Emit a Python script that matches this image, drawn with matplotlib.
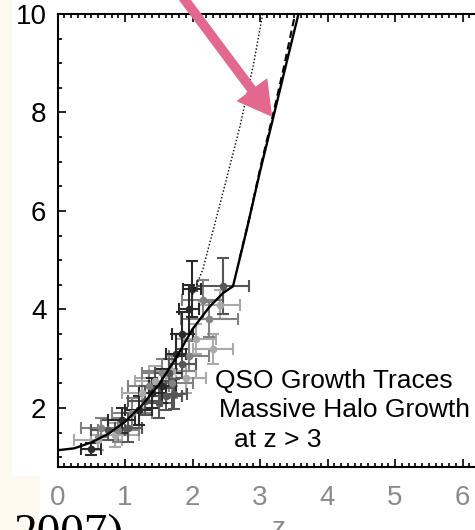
import matplotlib
matplotlib.use("Agg")
import matplotlib.pyplot as plt
from matplotlib.patches import Rectangle, FancyArrowPatch
from matplotlib.ticker import MultipleLocator

plt.rcParams['font.family'] = ['Liberation Sans', 'DejaVu Sans']

# Growth track: solid model curve
solid_z = [0.0, 0.25, 0.5, 0.75, 1.0, 1.25, 1.5, 1.75, 2.0, 2.25, 2.45, 2.6,
           2.8, 3.0, 3.2, 3.4, 3.57]
solid_y = [1.14, 1.18, 1.3, 1.47, 1.72, 2.05, 2.47, 3.0, 3.6, 4.05, 4.33, 4.47,
           5.6, 6.8, 7.92, 9.05, 10.0]

# Alternative tracks at high z
dashed_z = [2.7, 2.85, 3.0, 3.2, 3.35, 3.52]
dashed_y = [5.05, 5.9, 6.85, 8.0, 8.9, 10.0]
dotted_z = [2.0, 2.15, 2.4, 2.7, 2.9, 3.04]
dotted_y = [4.3, 4.8, 6.1, 7.7, 8.95, 10.0]

# QSO measurements, grouped by sample (z, value, z error, value error)
s1_z = [0.5, 0.95, 1.2, 1.4, 1.55, 1.75, 1.85, 1.99, 1.95]
s1_y = [1.17, 1.75, 1.95, 2.3, 2.45, 3.1, 3.5, 4.41, 4.0]
s1_xe = [0.15, 0.2, 0.2, 0.2, 0.2, 0.15, 0.15, 0.13, 0.15]
s1_ye = [0.12, 0.25, 0.3, 0.3, 0.35, 0.4, 0.45, 0.57, 0.5]

s2_z = [0.75, 1.05, 1.3, 1.5, 1.6, 1.72, 1.65, 2.45, 1.85]
s2_y = [1.55, 1.6, 2.15, 2.1, 2.25, 2.28, 2.7, 4.47, 2.9]
s2_xe = [0.25, 0.2, 0.25, 0.2, 0.25, 0.2, 0.2, 0.38, 0.2]
s2_ye = [0.2, 0.3, 0.3, 0.3, 0.3, 0.3, 0.3, 0.57, 0.3]

s3_z = [0.65, 0.9, 1.1, 1.35, 1.55, 1.95, 2.25, 2.15, 1.7]
s3_y = [1.6, 1.55, 1.9, 2.45, 2.7, 3.05, 3.8, 4.2, 2.5]
s3_xe = [0.3, 0.3, 0.3, 0.3, 0.3, 0.3, 0.42, 0.3, 0.3]
s3_ye = [0.2, 0.25, 0.3, 0.3, 0.3, 0.3, 0.35, 0.4, 0.3]

s4_z = [0.6, 0.85, 1.25, 1.45, 1.7, 2.05, 2.3, 2.4, 1.9]
s4_y = [1.35, 1.45, 2.3, 2.55, 2.75, 3.4, 3.2, 4.1, 2.6]
s4_xe = [0.35, 0.35, 0.3, 0.3, 0.35, 0.3, 0.3, 0.3, 0.3]
s4_ye = [0.2, 0.25, 0.3, 0.3, 0.3, 0.3, 0.3, 0.3, 0.3]

x_ticks = [0, 1, 2, 3, 4, 5, 6]
y_ticks = [2, 4, 6, 8, 10]

W, H = 475, 530
fig = plt.figure(figsize=(W / 100, H / 100), dpi=100, facecolor='white')

# cream slide background strips
cream = '#fdf9ee'
fig.patches.append(Rectangle((0, 0), 12 / W, 1, transform=fig.transFigure,
                             facecolor=cream, edgecolor='none', zorder=0))
fig.patches.append(Rectangle((0, 0), 40 / W, (H - 476) / H, transform=fig.transFigure,
                             facecolor=cream, edgecolor='none', zorder=0))

x_left, x_scale = 57.5, 67.5
z_max = 6.25
ax = fig.add_axes([x_left / W, (H - 467) / H, z_max * x_scale / W, 453 / H])
ax.set_xlim(0, z_max)
ax.set_ylim(0.8, 10)

# data with error bars, lightest first
for zz, yy, xe, ye, col in [
    (s4_z, s4_y, s4_xe, s4_ye, '#a9a9a9'),
    (s3_z, s3_y, s3_xe, s3_ye, '#828282'),
    (s2_z, s2_y, s2_xe, s2_ye, '#565656'),
    (s1_z, s1_y, s1_xe, s1_ye, '#2a2a2a'),
]:
    ax.errorbar(zz, yy, xerr=xe, yerr=ye, fmt='o', color=col, ms=4.5,
                elinewidth=1.5, capsize=4.5, capthick=1.5, zorder=2)

ax.plot(dotted_z, dotted_y, color='black', lw=1.0, ls=(0, (1, 1.5)), zorder=3)
ax.plot(dashed_z, dashed_y, color='black', lw=1.5, ls=(0, (3.5, 2.2)), zorder=3)
ax.plot(solid_z, solid_y, color='black', lw=1.7, zorder=4)

for s in ['left', 'bottom', 'top', 'right']:
    ax.spines[s].set_linewidth(1.5)

ax.set_xticks(x_ticks)
ax.set_yticks(y_ticks)
ax.xaxis.set_minor_locator(MultipleLocator(0.1))
ax.yaxis.set_minor_locator(MultipleLocator(0.5))
ax.tick_params(axis='both', which='both', direction='in', width=1.2)
ax.tick_params(axis='x', which='both', top=True)
ax.tick_params(axis='both', which='major', length=6)
ax.tick_params(axis='both', which='minor', length=3)
ax.tick_params(axis='x', labelsize=20, labelcolor='#8a8a8a', pad=13)
ax.tick_params(axis='y', labelsize=20, labelcolor='black', pad=8)

ax.text(215 / W, 1 - 388 / H, 'QSO Growth Traces', transform=fig.transFigure,
        fontsize=19, va='baseline', ha='left')
ax.text(219 / W, 1 - 417 / H, 'Massive Halo Growth', transform=fig.transFigure,
        fontsize=19, va='baseline', ha='left')
ax.text(234 / W, 1 - 447 / H, 'at z > 3', transform=fig.transFigure,
        fontsize=19, va='baseline', ha='left')

fig.text(279 / W, 1 - 516 / H, 'z', fontsize=20, color='#8a8a8a', ha='center', va='top')
fig.text(14 / W, 1 - 546 / H, '2007)', fontsize=34, color='black', ha='left',
         va='baseline', family=['Liberation Serif', 'DejaVu Serif'])

# highlight arrow
arrow = FancyArrowPatch((176 / W, 1 + 12 / H), (273 / W, 1 - 118 / H),
                        transform=fig.transFigure, color='#e2688e',
                        arrowstyle='simple,head_length=2.3,head_width=2.6,tail_width=0.6',
                        mutation_scale=10, zorder=10)
fig.patches.append(arrow)

fig.savefig('out.png', dpi=100, facecolor=fig.get_facecolor())
